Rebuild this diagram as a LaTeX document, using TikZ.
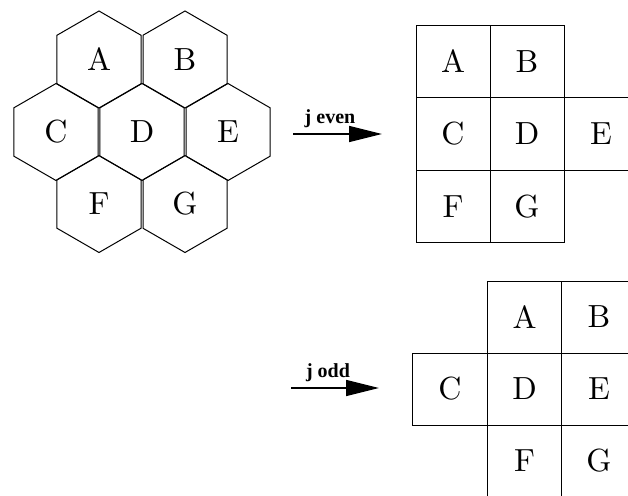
\documentclass[tikz,border=0pt]{standalone}
\usepackage{fontspec}
\newfontfamily\labfont{Liberation Serif}
\newfontfamily\cellfont{lmroman10-regular}[Extension=.otf]
\usetikzlibrary{arrows.meta}
\begin{document}
\begin{tikzpicture}[x=1pt,y=-1pt,
  hexline/.style={line width=1pt, line join=miter},
  hexlbl/.style={font=\cellfont\fontsize{32}{40}\selectfont, inner sep=0pt},
  cell/.style={draw, line width=1pt, inner sep=0pt, font=\cellfont\fontsize{32}{40}\selectfont},
  cellT/.style={cell, minimum width=74pt, minimum height=72.5pt},
  cellB/.style={cell, minimum width=74.5pt, minimum height=72pt},
  jarrow/.style={line width=1.5pt, -{Triangle[length=33pt,width=16pt]}},
  jlabel/.style={font=\labfont\bfseries\fontsize{20}{24}\selectfont, inner sep=0pt, anchor=base}]
\useasboundingbox (0,0) rectangle (628,495);
\clip (0,0) rectangle (628,495);
\def\hr{48.5}
% hexagonal cluster
\foreach \n/\x/\y in {A/99/59.5, B/185/59.5, C/56/132, D/142/132, E/228/132, F/99/204, G/185/204} {
  \draw[hexline] (\x,\y) +(30:\hr) -- +(90:\hr) -- +(150:\hr) -- +(210:\hr) -- +(270:\hr) -- +(330:\hr) -- cycle;
  \node[hexlbl] (h\n) at (\x,\y) {\n};
}
% j even arrow
\coordinate (e1) at (293,134);
\coordinate (e2) at (382,134);
\draw[jarrow] (e1) -- (e2);
\node[jlabel] (le) at (330,123) {j even};
% j even grid
\node[cellT] (tA) at (453,61.5) {A};
\node[cellT] (tB) at (527,61.5) {B};
\node[cellT] (tC) at (453,134) {C};
\node[cellT] (tD) at (527,134) {D};
\node[cellT] (tE) at (601,134) {E};
\node[cellT] (tF) at (453,206.5) {F};
\node[cellT] (tG) at (527,206.5) {G};
% j odd arrow
\coordinate (o1) at (291,388);
\coordinate (o2) at (379,388);
\draw[jarrow] (o1) -- (o2);
\node[jlabel] (lo) at (328,377) {j odd};
% j odd grid
\node[cellB] (bA) at (524.5,317) {A};
\node[cellB] (bB) at (599,317) {B};
\node[cellB] (bC) at (450,389) {C};
\node[cellB] (bD) at (524.5,389) {D};
\node[cellB] (bE) at (599,389) {E};
\node[cellB] (bF) at (524.5,461) {F};
\node[cellB] (bG) at (599,461) {G};
\end{tikzpicture}
\end{document}
